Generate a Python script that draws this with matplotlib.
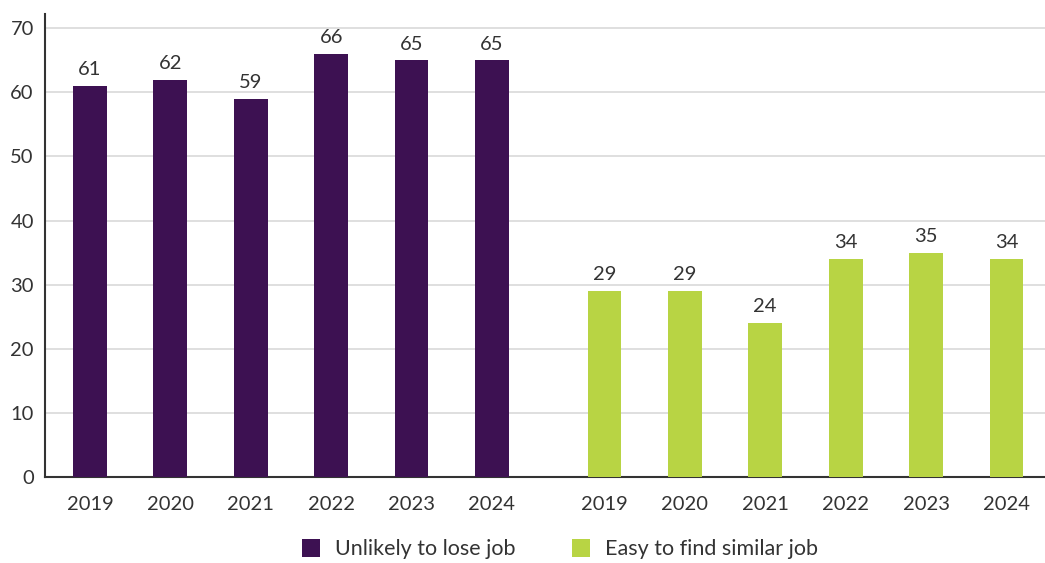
import matplotlib
matplotlib.use("Agg")
import matplotlib.pyplot as plt
import numpy as np

years = ["2019", "2020", "2021", "2022", "2023", "2024"]
unlikely_lose = [61, 62, 59, 66, 65, 65]
easy_find = [29, 29, 24, 34, 35, 34]
series_names = ["Unlikely to lose job", "Easy to find similar job"]
colors = ["#3D1152", "#B8D444"]

plt.rcParams['font.family'] = ['Lato', 'DejaVu Sans']

fig = plt.figure(figsize=(10.45, 5.63), dpi=100)
ax = fig.add_axes([0.043, 0.1528, 0.957, 0.822])

x1 = np.arange(len(years))
x2 = x1 + 6.4
w = 0.42
b1 = ax.bar(x1, unlikely_lose, width=w, color=colors[0], label=series_names[0], zorder=3)
b2 = ax.bar(x2, easy_find, width=w, color=colors[1], label=series_names[1], zorder=3)
for bars, vals in ((b1, unlikely_lose), (b2, easy_find)):
    for r, v in zip(bars, vals):
        ax.text(r.get_x() + r.get_width() / 2, v + 1.2, str(v), ha='center', va='bottom',
                fontsize=14.5, color='#333333')

ax.set_xlim(-0.56, 11.88)
ax.set_ylim(0, 72.2)
ax.set_yticks(range(0, 71, 10))
ax.set_xticks(list(x1) + list(x2))
ax.set_xticklabels(years + years)
ax.tick_params(axis='both', length=0, labelsize=14.5, colors='#333333')
ax.tick_params(axis='x', pad=14)
ax.tick_params(axis='y', pad=8)
ax.grid(axis='y', color='#d9d9d9', linewidth=1.2, zorder=0)
for s in ['top', 'right']:
    ax.spines[s].set_visible(False)
ax.spines['left'].set_color('#333333')
ax.spines['bottom'].set_color('#333333')
ax.spines['left'].set_linewidth(1.5)
ax.spines['bottom'].set_linewidth(1.5)

fig.legend(handles=[b1, b2], loc='lower center', bbox_to_anchor=(0.536, -0.028), ncol=2,
           frameon=False, fontsize=15.5, handlelength=0.85, handleheight=0.9,
           columnspacing=2.6, handletextpad=0.7, labelcolor='#333333')

fig.savefig("out.png", dpi=100)
